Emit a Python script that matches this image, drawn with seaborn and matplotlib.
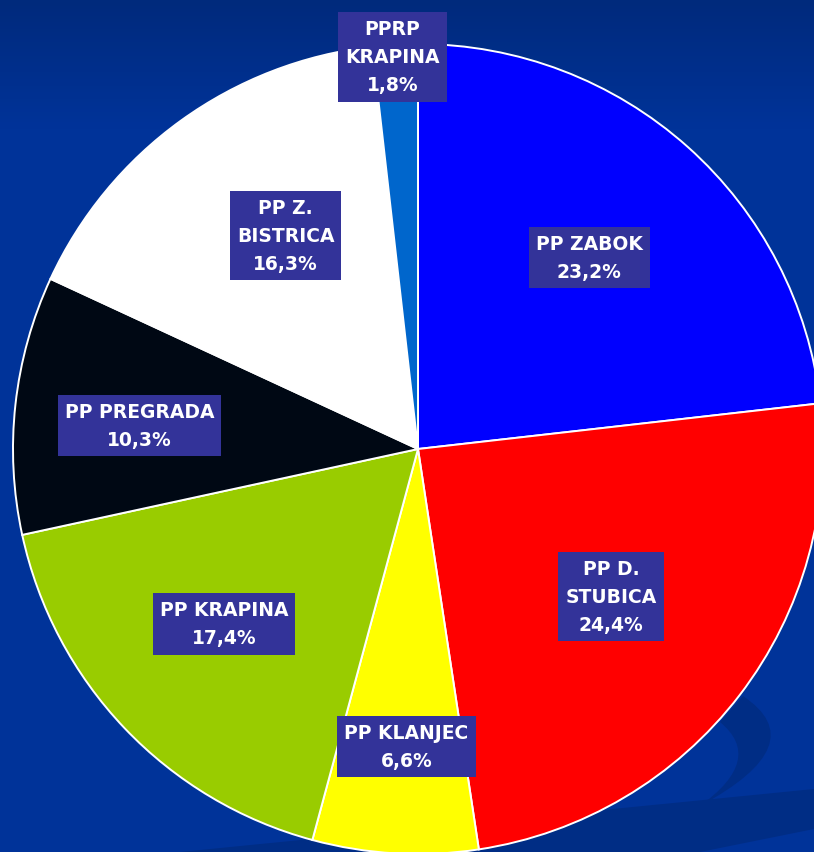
import numpy as np
import matplotlib
matplotlib.use("Agg")
import matplotlib.pyplot as plt
from matplotlib.path import Path
from matplotlib.patches import PathPatch, Polygon
import seaborn as sns

# --- data ---
labels = ["PP ZABOK", "PP D.\nSTUBICA", "PP KLANJEC", "PP KRAPINA",
          "PP PREGRADA", "PP Z.\nBISTRICA", "PPRP\nKRAPINA"]
shares = [23.2, 24.4, 6.6, 17.4, 10.3, 16.3, 1.8]
colors = ["#0000FF", "#FF0000", "#FFFF00", "#99CC00",
          "#000814", "#FFFFFF", "#0066CC"]

# label placement: fraction of radius, angle nudge (deg)
label_dist = [0.635, 0.60, 0.735, 0.645, 0.69, 0.62, 0.97]
label_nudge = [0, 0, 1, -1.5, 1.5, -4, 0.5]

W, H = 814, 853
CX, CY, R = 418, H - 450, 405

sns.set_theme(style="white")
plt.rcParams['font.family'] = ['DejaVu Sans']

fig = plt.figure(figsize=(W / 100, H / 100), dpi=100)
fig.patch.set_facecolor("#003399")
ax = fig.add_axes([0, 0, 1, 1])
ax.set_facecolor("#003399")

# background: slightly darker at the top
grad = np.linspace(0, 1, 256).reshape(-1, 1)
top = np.array([0x00, 0x2a, 0x7c]) / 255
base = np.array([0x00, 0x33, 0x99]) / 255
t = np.clip(grad / 0.15, 0, 1)
img = (top * (1 - t) + base * t).reshape(256, 1, 3)
ax.imshow(img, extent=(0, W, 0, H), aspect="auto", zorder=0)

# darker swooshes bottom-right
band = Polygon([(180, 0), (W, H - 790), (W, H - 830), (700, 0)],
               closed=True, facecolor="#002d85", edgecolor="none", zorder=1)
ax.add_patch(band)
verts = [(743, H - 697), (815, H - 745), (700, H - 807),
         (765, H - 760), (720, H - 723), (743, H - 697)]
codes = [Path.MOVETO, Path.CURVE3, Path.CURVE3, Path.CURVE3, Path.CURVE3, Path.CLOSEPOLY]
ax.add_patch(PathPatch(Path(verts, codes), facecolor="#002d85",
                       edgecolor="none", zorder=1))

wedges, _ = ax.pie(shares, colors=sns.color_palette(colors), startangle=90,
                   counterclock=False, center=(CX, CY), radius=R,
                   wedgeprops=dict(edgecolor="white", linewidth=1.4))
for w in wedges:
    w.set_zorder(2)

for w, lab, val, d, nd in zip(wedges, labels, shares, label_dist, label_nudge):
    ang = np.deg2rad((w.theta1 + w.theta2) / 2 + nd)
    x = CX + d * R * np.cos(ang)
    y = CY + d * R * np.sin(ang)
    pct = f"{val:.1f}%".replace(".", ",")
    ax.text(x, y, f"{lab}\n{pct}", ha="center", va="center", color="white",
            fontsize=13.5, fontweight="bold", linespacing=1.6, zorder=5,
            bbox=dict(boxstyle="square,pad=0.38", facecolor="#333399",
                      edgecolor="none"))

ax.set_xlim(0, W)
ax.set_ylim(0, H)
ax.set_aspect("equal")
ax.axis("off")

fig.savefig("out.png", dpi=100, facecolor=fig.get_facecolor())
